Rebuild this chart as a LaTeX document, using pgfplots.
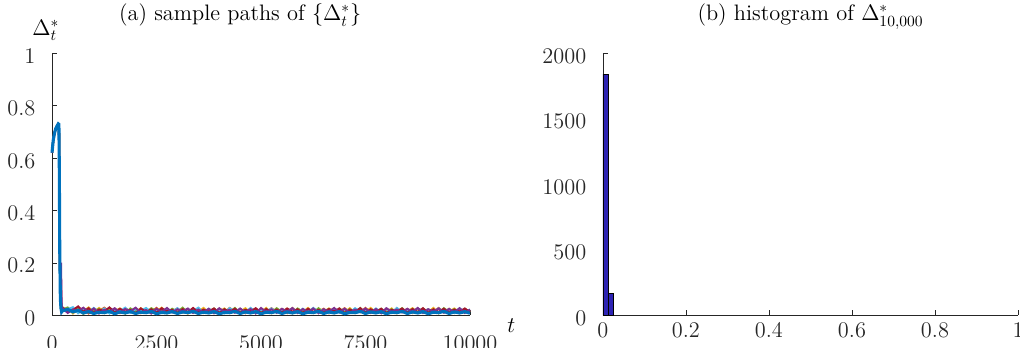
\documentclass[border=0pt]{standalone}
\usepackage{pgfplots}
\usepackage{pgfplotstable}
\pgfplotsset{compat=1.18}
\definecolor{mblue}{rgb}{0,0.447,0.741}
\definecolor{morange}{rgb}{0.85,0.325,0.098}
\definecolor{myellow}{rgb}{0.929,0.694,0.125}
\definecolor{mpurple}{rgb}{0.494,0.184,0.556}
\definecolor{mgreen}{rgb}{0.466,0.674,0.188}
\definecolor{mcyan}{rgb}{0.301,0.745,0.933}
\definecolor{mred}{rgb}{0.635,0.078,0.184}
\definecolor{histc}{RGB}{45,35,180}
\definecolor{axc}{rgb}{0.15,0.15,0.15}
\pgfplotstableread{
t     bl    or    ye    pu    gr    cy    rd
0     0.620 0.620 0.620 0.620 0.620 0.620 0.620
30    0.668 0.668 0.668 0.668 0.668 0.668 0.668
60    0.695 0.695 0.695 0.695 0.695 0.695 0.695
90    0.712 0.712 0.712 0.712 0.712 0.712 0.712
120   0.722 0.722 0.722 0.722 0.722 0.722 0.722
150   0.730 0.730 0.730 0.730 0.730 0.730 0.730
165   0.728 0.728 0.728 0.728 0.728 0.728 0.728
175   0.550 0.550 0.550 0.550 0.550 0.550 0.550
185   0.250 0.250 0.250 0.250 0.250 0.250 0.250
200   0.060 0.050 0.055 0.060 0.050 0.055 0.060
215   0.025 0.025 0.030 0.200 0.025 0.030 0.140
230   0.012 0.018 0.022 0.030 0.020 0.019 0.020
250   0.016 0.030 0.018 0.027 0.021 0.016 0.028
375   0.022 0.012 0.026 0.008 0.029 0.022 0.014
500   0.012 0.025 0.006 0.021 0.011 0.030 0.019
625   0.018 0.009 0.023 0.016 0.025 0.007 0.033
750   0.008 0.021 0.014 0.028 0.005 0.024 0.012
875   0.013 0.006 0.029 0.011 0.019 0.013 0.026
1000  0.006 0.024 0.012 0.025 0.014 0.027 0.009
1125  0.011 0.015 0.027 0.006 0.023 0.010 0.021
1250  0.009 0.028 0.009 0.020 0.008 0.025 0.015
1375  0.014 0.011 0.021 0.013 0.027 0.006 0.029
1500  0.005 0.023 0.015 0.026 0.012 0.020 0.010
1625  0.012 0.008 0.025 0.010 0.022 0.014 0.024
1750  0.008 0.026 0.007 0.023 0.006 0.028 0.013
1875  0.013 0.013 0.020 0.015 0.025 0.009 0.020
2000  0.006 0.019 0.012 0.028 0.013 0.023 0.007
2125  0.011 0.007 0.026 0.009 0.020 0.016 0.025
2250  0.009 0.024 0.010 0.019 0.009 0.027 0.012
2375  0.014 0.012 0.022 0.006 0.026 0.011 0.022
2500  0.005 0.027 0.014 0.024 0.015 0.021 0.009
2625  0.010 0.010 0.028 0.012 0.021 0.008 0.026
2750  0.008 0.022 0.008 0.027 0.007 0.025 0.014
2875  0.013 0.014 0.019 0.010 0.024 0.012 0.020
3000  0.006 0.025 0.011 0.022 0.012 0.026 0.008
3125  0.012 0.009 0.024 0.014 0.028 0.010 0.023
3250  0.009 0.021 0.006 0.025 0.010 0.022 0.011
3375  0.014 0.013 0.020 0.008 0.023 0.015 0.027
3500  0.006 0.026 0.013 0.021 0.006 0.028 0.010
3625  0.011 0.008 0.027 0.011 0.019 0.009 0.021
3750  0.008 0.020 0.010 0.024 0.013 0.024 0.013
3875  0.013 0.011 0.022 0.007 0.025 0.012 0.025
4000  0.005 0.023 0.014 0.026 0.009 0.020 0.008
4125  0.010 0.010 0.025 0.013 0.022 0.007 0.022
4250  0.009 0.027 0.008 0.020 0.011 0.026 0.012
4375  0.014 0.012 0.021 0.009 0.027 0.013 0.024
4500  0.006 0.022 0.012 0.025 0.007 0.023 0.009
4625  0.012 0.007 0.026 0.011 0.020 0.010 0.020
4750  0.008 0.025 0.009 0.023 0.014 0.027 0.014
4875  0.013 0.014 0.023 0.006 0.024 0.011 0.026
5000  0.005 0.020 0.011 0.027 0.008 0.021 0.007
5125  0.011 0.009 0.027 0.012 0.023 0.014 0.023
5250  0.009 0.026 0.007 0.022 0.010 0.025 0.011
5375  0.014 0.011 0.020 0.009 0.026 0.008 0.021
5500  0.006 0.023 0.014 0.024 0.012 0.022 0.010
5625  0.012 0.008 0.024 0.013 0.021 0.012 0.025
5750  0.008 0.027 0.010 0.026 0.007 0.026 0.013
5875  0.013 0.012 0.022 0.008 0.025 0.009 0.022
6000  0.005 0.021 0.012 0.023 0.013 0.024 0.008
6125  0.011 0.009 0.027 0.011 0.020 0.011 0.024
6250  0.009 0.025 0.008 0.025 0.009 0.027 0.012
6375  0.014 0.013 0.021 0.007 0.026 0.013 0.020
6500  0.006 0.024 0.013 0.022 0.011 0.021 0.009
6625  0.012 0.007 0.025 0.014 0.023 0.008 0.023
6750  0.008 0.022 0.009 0.027 0.008 0.025 0.014
6875  0.013 0.012 0.023 0.010 0.025 0.012 0.025
7000  0.005 0.026 0.011 0.024 0.012 0.023 0.007
7125  0.010 0.010 0.026 0.008 0.022 0.010 0.021
7250  0.009 0.023 0.008 0.021 0.010 0.026 0.013
7375  0.014 0.011 0.022 0.012 0.027 0.014 0.026
7500  0.006 0.027 0.013 0.025 0.007 0.020 0.010
7625  0.012 0.008 0.027 0.009 0.021 0.009 0.022
7750  0.008 0.022 0.010 0.023 0.013 0.025 0.012
7875  0.013 0.014 0.021 0.007 0.024 0.011 0.024
8000  0.005 0.021 0.012 0.026 0.009 0.023 0.008
8125  0.011 0.009 0.025 0.013 0.022 0.008 0.020
8250  0.009 0.026 0.007 0.021 0.011 0.027 0.013
8375  0.014 0.012 0.022 0.010 0.026 0.012 0.025
8500  0.006 0.023 0.014 0.024 0.008 0.021 0.009
8625  0.012 0.008 0.026 0.012 0.023 0.010 0.023
8750  0.008 0.025 0.009 0.027 0.012 0.026 0.011
8875  0.013 0.013 0.023 0.008 0.025 0.013 0.026
9000  0.005 0.022 0.011 0.022 0.010 0.022 0.008
9125  0.011 0.010 0.027 0.014 0.021 0.009 0.022
9250  0.009 0.027 0.008 0.025 0.007 0.025 0.012
9375  0.014 0.011 0.021 0.009 0.026 0.011 0.024
9500  0.006 0.024 0.013 0.023 0.012 0.023 0.009
9625  0.012 0.008 0.025 0.011 0.022 0.008 0.021
9750  0.008 0.022 0.010 0.026 0.009 0.026 0.013
9875  0.013 0.013 0.022 0.008 0.024 0.012 0.025
10000 0.007 0.020 0.012 0.021 0.011 0.021 0.011
}\paths
\begin{document}
\Large
\begin{tikzpicture}
\useasboundingbox (0,0) rectangle (656.9pt,223.5pt);
\pgfplotsset{
  myaxis/.style={
    scale only axis,
    axis lines*=left,
    axis line style={axc},
    tick align=inside,
    major tick length=3pt,
    tick style={axc},
    every tick label/.append style={text=axc},
    yticklabel style={xshift=-5.7pt,yshift=-2pt},
    title style={anchor=base,yshift=0pt},
    /pgf/number format/set thousands separator={},
  }
}
\begin{axis}[myaxis,
  at={(33.5pt,20.6pt)}, anchor=south west,
  width=269.2pt, height=168.7pt,
  xmin=0, xmax=10000, ymin=0, ymax=1,
  xtick={0,2500,5000,7500,10000},
  ytick={0,0.2,0.4,0.6,0.8,1},
  yticklabels={0,0.2,0.4,0.6,0.8,1},
  xticklabels={0,2500,5000,7500,10000},
  xticklabel style={yshift=-8.4pt},
  title={(a) sample paths of $\{\Delta_t^*\}$},
  title style={at={(rel axis cs:0.45,1)}, yshift=14.8pt},
  ylabel={$\Delta_t^*$},
  every axis y label/.style={at={(rel axis cs:0,1)}, anchor=south, xshift=-4pt, yshift=3pt},
  xlabel={$t$},
  every axis x label/.style={at={(rel axis cs:1,0)}, anchor=west, xshift=19pt, yshift=-6.5pt},
  clip=false,
]
\addplot[morange, line width=1.3pt] table[x=t,y=or] {\paths};
\addplot[myellow, line width=1.3pt] table[x=t,y=ye] {\paths};
\addplot[mgreen, line width=1.3pt] table[x=t,y=gr] {\paths};
\addplot[mcyan, line width=1.3pt] table[x=t,y=cy] {\paths};
\addplot[mred, line width=1.3pt] table[x=t,y=rd] {\paths};
\addplot[mpurple, line width=1.3pt] table[x=t,y=pu] {\paths};
\addplot[mblue, line width=2pt] table[x=t,y=bl] {\paths};
\end{axis}
\begin{axis}[myaxis,
  at={(388.3pt,20.6pt)}, anchor=south west,
  width=267.3pt, height=168.7pt,
  xmin=0, xmax=1, ymin=0, ymax=2000,
  xtick={0,0.2,0.4,0.6,0.8,1},
  xticklabels={0,0.2,0.4,0.6,0.8,1},
  ytick={0,500,1000,1500,2000},
  yticklabels={0,500,1000,1500,2000},
  title={(b) histogram of $\Delta_{10{,}000}^*$},
  title style={at={(rel axis cs:0.5,1)}, yshift=14.8pt},
  clip=false,
]
\addplot[ybar interval, fill=histc, draw=black, line width=0.4pt] coordinates {(0,1840) (0.0125,165) (0.025,165)};
\end{axis}
\end{tikzpicture}
\end{document}
